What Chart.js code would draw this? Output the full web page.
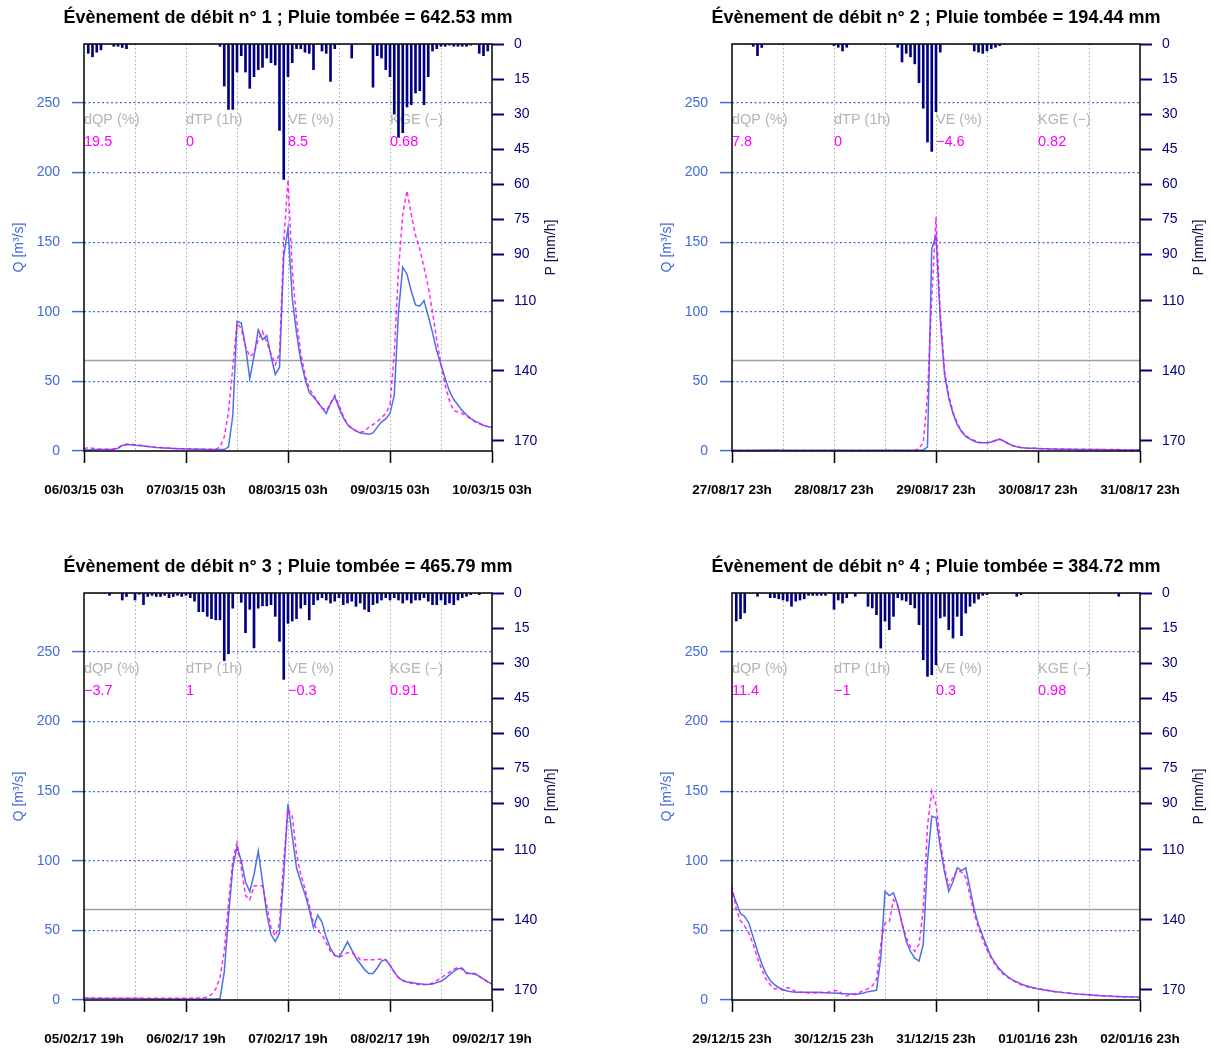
<!DOCTYPE html>
<html lang="fr">
<head>
<meta charset="utf-8">
<title>Évènements de débit</title>
<script src="https://cdn.jsdelivr.net/npm/chart.js@4.4.1/dist/chart.umd.min.js"></script>
<style>
  html, body { margin: 0; padding: 0; background: #fff; }
  #sheet { position: relative; width: 1214px; height: 1048px; }
  #sheet canvas { position: absolute; }
</style>
</head>
<body>
<div id="sheet">
  <canvas id="ev1" width="566" height="499" style="left:0;top:0"></canvas>
  <canvas id="ev2" width="566" height="499" style="left:648px;top:0"></canvas>
  <canvas id="ev3" width="566" height="499" style="left:0;top:549px"></canvas>
  <canvas id="ev4" width="566" height="499" style="left:648px;top:549px"></canvas>
</div>
<script>
// all series are hourly, index = hours since the start of the 4-day window

// --- event 1 ---
const dates1 = ['06/03/15 03h', '07/03/15 03h', '08/03/15 03h', '09/03/15 03h', '10/03/15 03h'];
const rain1 = [
  0, 4, 5.5, 3.5, 2.5, 0, 0, 1, 1, 1.5,
  2, 0, 0, 0, 0, 0, 0, 0, 0, 0,
  0, 0, 0, 0, 0, 0, 0, 0, 0, 0,
  0, 0, 1, 18, 28, 28, 12, 5, 12, 19,
  14, 11, 10, 6, 8, 9, 37, 58, 14, 8,
  2, 2, 3.5, 4, 11, 0, 3, 4, 16, 2,
  0, 0, 0, 6, 0, 0, 0, 0, 18.5, 5,
  6, 11, 14, 30, 40, 38, 27, 26, 21, 20,
  26, 14, 3, 2, 1, 1, 0.5, 1, 1, 1,
  1, 0.5, 0, 4, 5, 3];
const qObs1 = [
  0.8, 0.8, 0.9, 1, 1, 1, 1, 1.2, 2, 4,
  4.5, 4.5, 4.2, 4, 3.6, 3.2, 2.9, 2.6, 2.4, 2.2,
  2, 1.8, 1.7, 1.6, 1.5, 1.4, 1.3, 1.2, 1.2, 1.1,
  1.1, 1, 1, 1, 3, 25, 93, 92, 75, 52,
  68, 87, 80, 83, 68, 55, 60, 140, 160, 110,
  85, 65, 52, 42, 39, 35, 31, 27, 34, 39,
  31, 24, 19, 16.5, 14.5, 13, 12.5, 12, 13, 17,
  21, 23, 27, 40, 100, 132, 127, 115, 105, 104,
  108, 97, 85, 72, 62, 52, 43, 37, 33, 29,
  26, 23.5, 21.5, 20, 18.5, 17.5, 17];
const qSim1 = [
  1.5, 2.5, 2, 1.5, 1.2, 1.2, 1.2, 1.5, 2.5, 4,
  5, 5, 4.5, 4.2, 3.8, 3.3, 3, 2.7, 2.5, 2.3,
  2.1, 1.9, 1.8, 1.7, 1.6, 1.5, 1.4, 1.4, 1.3, 1.3,
  1.2, 1.2, 3, 10, 28, 60, 92, 88, 75, 68,
  70, 80, 86, 78, 70, 62, 70, 150, 195, 130,
  95, 70, 55, 45, 40, 35, 31, 29, 34, 40,
  33, 25, 19, 16, 14.5, 13.5, 14, 17, 19, 21,
  24, 27, 33, 70, 130, 170, 187, 170, 155, 145,
  132, 118, 100, 80, 62, 47, 36, 29, 28, 27,
  25, 23, 21, 19.5, 18.5, 17.5, 17];
const stats1 = [19.5, 0, 8.5, 0.68];

// --- event 2 ---
const dates2 = ['27/08/17 23h', '28/08/17 23h', '29/08/17 23h', '30/08/17 23h', '31/08/17 23h'];
const rain2 = [
  0, 0, 0, 0, 0, 1, 5, 1.5, 0, 0,
  0, 0, 0, 0, 0, 0, 0, 0, 0, 0,
  0, 0, 0, 0, 0.7, 1.4, 3, 1.4, 0, 0,
  0, 0, 0, 0, 0, 0, 0, 0, 0, 1.4,
  7.7, 4, 5.5, 8.5, 16.6, 27.5, 42, 46, 29, 3.5,
  0, 0, 0, 0, 0, 0, 0, 3, 3.5, 4,
  3, 2, 1.4, 0.7, 0, 0, 0, 0, 0, 0,
  0, 0, 0, 0, 0, 0, 0, 0, 0, 0,
  0, 0, 0, 0, 0, 0, 0, 0, 0, 0,
  0, 0, 0, 0, 0, 0];
const qObs2 = [
  0.6, 0.6, 0.6, 0.6, 0.6, 0.6, 0.6, 0.7, 0.7, 0.7,
  0.7, 0.7, 0.6, 0.6, 0.6, 0.6, 0.6, 0.6, 0.5, 0.5,
  0.5, 0.5, 0.5, 0.5, 0.5, 0.5, 0.5, 0.5, 0.5, 0.5,
  0.5, 0.5, 0.5, 0.5, 0.5, 0.5, 0.5, 0.5, 0.5, 0.5,
  0.5, 0.5, 0.5, 0.5, 0.5, 0.6, 3, 145, 155, 95,
  55, 38, 27, 19, 14, 10.5, 8.5, 7, 6, 6,
  6, 6.5, 7.5, 8.5, 7, 5.5, 4, 3, 2.5, 2.2,
  2, 1.9, 1.8, 1.7, 1.6, 1.5, 1.4, 1.3, 1.3, 1.2,
  1.2, 1.1, 1.1, 1, 1, 1, 1, 1, 0.9, 0.9,
  0.9, 0.9, 0.8, 0.8, 0.8, 0.8, 0.8];
const qSim2 = [
  0.3, 0.3, 0.3, 0.3, 0.3, 0.3, 0.3, 0.3, 0.3, 0.3,
  0.3, 0.3, 0.3, 0.3, 0.3, 0.3, 0.3, 0.3, 0.3, 0.3,
  0.3, 0.3, 0.3, 0.3, 0.3, 0.3, 0.3, 0.3, 0.3, 0.3,
  0.3, 0.3, 0.3, 0.3, 0.3, 0.3, 0.3, 0.3, 0.3, 0.3,
  0.3, 0.3, 0.3, 0.5, 2, 6, 40, 110, 168, 100,
  58, 40, 28, 20, 14.5, 11, 9, 7.5, 6.5, 6,
  6, 6.5, 7.5, 8.5, 7, 5, 4, 3, 2.5, 2.2,
  2, 1.9, 1.8, 1.7, 1.6, 1.5, 1.5, 1.4, 1.4, 1.3,
  1.3, 1.2, 1.2, 1.2, 1.1, 1.1, 1.1, 1, 1, 1,
  1, 1, 0.9, 0.9, 0.9, 0.9, 0.9];
const stats2 = [7.8, 0, -4.6, 0.82];

// --- event 3 ---
const dates3 = ['05/02/17 19h', '06/02/17 19h', '07/02/17 19h', '08/02/17 19h', '09/02/17 19h'];
const rain3 = [
  0, 0, 0, 0, 0, 0, 1, 0, 0, 3,
  1.5, 0, 3, 0.5, 5, 1.5, 1, 1.5, 1.5, 1,
  2, 1.5, 1, 1.5, 1, 2, 3.5, 8, 8, 10,
  11, 11.5, 11.5, 29, 26, 6.5, 0, 4, 17, 7,
  23.5, 6.5, 5.5, 5.5, 5, 10, 20.7, 37, 13, 12,
  11, 6.5, 5, 11.5, 5, 3, 2, 3, 4.3, 3.5,
  2, 5, 4.3, 3.5, 5.7, 4.3, 7, 8, 5, 4.3,
  3, 2, 3, 2, 3, 4.3, 3, 4.3, 3, 3,
  2, 3.5, 5, 5, 3, 5, 4.3, 5, 3, 2,
  1.4, 0.7, 0, 0.7, 0, 0];
const qObs3 = [
  1.2, 1.2, 1.1, 1.1, 1.1, 1, 1, 1, 1, 1,
  1, 1, 1, 1, 0.9, 0.9, 0.9, 0.9, 0.9, 0.9,
  0.8, 0.8, 0.8, 0.8, 0.8, 0.8, 0.8, 0.8, 0.8, 0.8,
  0.8, 0.8, 1, 20, 60, 95, 110, 100, 85, 78,
  90, 107, 85, 62, 47, 42, 48, 90, 141, 118,
  95, 85, 76, 65, 52, 61, 56, 45, 37, 32,
  31, 36, 42, 36, 30, 26, 22, 19, 19, 23,
  28, 29, 25, 20, 16, 14, 13, 12.5, 12, 11.6,
  11.3, 11.2, 11.5, 12.5, 13.5, 15.5, 18, 20.5, 22.5, 23,
  19, 19, 19, 17, 15, 13, 11.6];
const qSim3 = [
  1.5, 1.5, 1.4, 1.4, 1.4, 1.3, 1.3, 1.3, 1.3, 1.3,
  1.3, 1.2, 1.2, 1.2, 1.2, 1.2, 1.2, 1.2, 1.2, 1.2,
  1.2, 1.2, 1.2, 1.2, 1.3, 1.3, 1.4, 1.5, 1.7, 2,
  4, 8, 16, 35, 70, 100, 113, 95, 75, 72,
  82, 82, 82, 68, 52, 46, 55, 100, 137, 132,
  105, 90, 80, 68, 55, 50, 47, 41, 35, 32,
  31, 32, 34, 34, 32, 29, 29, 29, 29, 29,
  29.5, 29, 25, 20, 16, 14, 13, 12, 11.5, 11,
  11, 11.5, 12, 14, 16, 18, 20, 22, 23.5, 22,
  19.5, 19, 18.5, 17, 15, 13, 11.6];
const stats3 = [-3.7, 1, -0.3, 0.91];

// --- event 4 ---
const dates4 = ['29/12/15 23h', '30/12/15 23h', '31/12/15 23h', '01/01/16 23h', '02/01/16 23h'];
const rain4 = [
  0, 12, 11, 8.5, 0, 0, 1.4, 0, 0, 2,
  2, 2.5, 3, 3.5, 5.7, 3.5, 3, 2.5, 1, 1,
  1, 1, 1, 0, 7, 3, 4.3, 2, 0, 1.4,
  0, 0, 5.7, 6.4, 9.3, 23.6, 12, 15.7, 10, 2,
  3, 3.5, 5, 6.4, 13.6, 28.6, 35.7, 35, 30.7, 10.7,
  10, 15.7, 19.3, 10, 18.3, 8.6, 5.7, 4.3, 2.6, 1,
  0.7, 0, 0, 0, 0, 0, 0, 1.4, 0.7, 0,
  0, 0, 0, 0, 0, 0, 0, 0, 0, 0,
  0, 0, 0, 0, 0, 0, 0, 0, 0, 0,
  0, 1.4, 0, 0, 0, 0];
const qObs4 = [
  78, 70, 62, 60, 55, 45, 35, 26, 19, 14,
  11, 9, 7.5, 6.5, 6, 5.5, 5.5, 5.5, 5.5, 5.5,
  5.5, 5.3, 5.2, 5.1, 5, 4.8, 4.6, 4.5, 4.3, 4,
  4.5, 5, 6, 6.5, 7, 30, 78, 75, 77, 68,
  55, 42, 35, 30, 28, 40, 100, 132, 131, 110,
  92, 78, 85, 95, 93, 95, 80, 65, 54, 46,
  38, 31, 26, 22, 19, 16.5, 14.5, 13, 11.5, 10.5,
  9.5, 8.8, 8, 7.5, 7, 6.5, 6, 5.7, 5.3, 5,
  4.7, 4.4, 4.1, 3.9, 3.7, 3.5, 3.3, 3.1, 2.9, 2.8,
  2.6, 2.5, 2.4, 2.3, 2.2, 2.1, 2];
const qSim4 = [
  82, 65, 57, 53, 48, 40, 30, 22, 15, 11,
  8, 8.5, 7, 9, 8, 6, 5.5, 5.5, 5, 5,
  5, 5.5, 5, 6, 6.5, 7, 4, 3, 4, 4.5,
  5.5, 7, 8, 10, 15, 40, 55, 56, 72, 68,
  55, 45, 38, 35, 40, 65, 125, 150, 140, 115,
  95, 82, 88, 93, 92, 88, 75, 62, 52, 43,
  36, 30, 25, 21, 18, 16, 14, 12.5, 11, 10,
  9, 8.5, 8, 7.5, 7, 6.5, 6, 5.7, 5.3, 5,
  4.7, 4.4, 4.1, 3.9, 3.7, 3.5, 3.3, 3.1, 2.9, 2.7,
  2.5, 2.3, 2.2, 2.1, 2, 1.9, 1.8];
const stats4 = [11.4, -1, 0.3, 0.98];

const rainTotals = ['642.53', '194.44', '465.79', '384.72'];
const statNames = ['dQP (%)', 'dTP (1h)', 'VE (%)', 'KGE (\u2212)'];
const qTicks = [0, 50, 100, 150, 200, 250];
const pTicks = [0, 15, 30, 45, 60, 75, 90, 110, 140, 170];
const qThreshold = 65;
const qTop = 292.4;
const pTop = 174.3;
const hours = 96;

const FONT = "'Liberation Sans', Arial, Helvetica, sans-serif";
const BLUE = '#4169E1';
const NAVY = '#000080';
const PINK = '#FF00FF';

const fmt = v => String(v).replace('-', '\u2212');

// stats block behind the grid; title, frame and rain axis title on top
const panelDecor = {
  id: 'panelDecor',
  beforeDraw(chart, args, opts) {
    const { ctx } = chart;
    const x = chart.scales.x, y = chart.scales.y;
    ctx.save();
    ctx.font = '14.5px ' + FONT;
    ctx.textAlign = 'left';
    ctx.textBaseline = 'middle';
    statNames.forEach((name, k) => {
      const px = x.getPixelForValue(k * 24);
      ctx.fillStyle = '#B4B4B4';
      ctx.fillText(name, px, y.getPixelForValue(238));
      ctx.fillStyle = PINK;
      ctx.fillText(fmt(opts.stats[k]), px, y.getPixelForValue(222));
    });
    ctx.restore();
  },
  afterDraw(chart, args, opts) {
    const { ctx, chartArea: a } = chart;
    const midX = (a.left + a.right) / 2;
    ctx.save();
    ctx.strokeStyle = '#000';
    ctx.lineWidth = 1.5;
    ctx.strokeRect(a.left, a.top, a.right - a.left, a.bottom - a.top);

    ctx.font = 'bold 18px ' + FONT;
    ctx.fillStyle = '#000';
    ctx.textAlign = 'center';
    ctx.textBaseline = 'middle';
    ctx.fillText(opts.title, midX, a.top - 26);

    ctx.translate(a.right + 59, (a.top + a.bottom) / 2);
    ctx.rotate(-Math.PI / 2);
    ctx.font = '14px ' + FONT;
    ctx.fillStyle = '#10104a';
    ctx.fillText('P [mm/h]', 0, 0);
    ctx.restore();
  }
};

function drawEvent(id, n, dates, rain, qObs, qSim, stats) {
  const pts = arr => arr.map((v, i) => ({ x: i, y: v }));
  const tickFont = { family: FONT, size: 14 };
  new Chart(document.getElementById(id), {
    type: 'line',
    plugins: [panelDecor],
    data: {
      datasets: [
        { type: 'bar', data: pts(rain), yAxisID: 'y2', backgroundColor: NAVY,
          barThickness: 2, order: 0 },
        { data: pts(qSim), yAxisID: 'y', borderColor: 'rgba(255,0,255,0.85)', borderWidth: 1.5,
          borderDash: [4, 3], pointRadius: 0, order: 1 },
        { data: pts(qObs), yAxisID: 'y', borderColor: 'rgba(65,105,225,0.95)', borderWidth: 1.5,
          pointRadius: 0, order: 2 },
        { data: [{ x: 0, y: qThreshold }, { x: hours, y: qThreshold }], yAxisID: 'y',
          borderColor: '#A0A0A0', borderWidth: 1.5, pointRadius: 0, order: 3 }
      ]
    },
    options: {
      responsive: false,
      animation: false,
      devicePixelRatio: 1,
      layout: { padding: { top: 44 } },
      plugins: {
        legend: { display: false },
        tooltip: { enabled: false },
        panelDecor: {
          stats,
          title: `Évènement de débit n° ${n} ; Pluie tombée = ${rainTotals[n - 1]} mm`
        }
      },
      scales: {
        x: {
          type: 'linear', min: 0, max: hours, offset: false,
          afterFit: s => { s.height = 48; },
          ticks: {
            stepSize: 12, autoSkip: false, maxRotation: 0, padding: 19, color: '#000',
            font: { family: FONT, size: 13.5, weight: 'bold' },
            callback: v => (v % 24 === 0 ? dates[v / 24] : '')
          },
          grid: {
            offset: false,
            color: c => (c.tick && c.tick.value % hours !== 0 ? '#A8A8A8' : 'rgba(0,0,0,0)'),
            lineWidth: 1, tickLength: 12, tickWidth: 1.5,
            tickColor: c => (c.tick && c.tick.value % 24 === 0 ? '#000' : 'rgba(0,0,0,0)')
          },
          border: { display: false, dash: [1.5, 2.5] }
        },
        y: {
          position: 'left', min: 0, max: qTop,
          afterBuildTicks: s => { s.ticks = qTicks.map(v => ({ value: v })); },
          afterFit: s => { s.width = 84; },
          ticks: { color: BLUE, padding: 12, font: tickFont },
          grid: {
            color: c => (c.tick && c.tick.value !== 0 ? BLUE : 'rgba(0,0,0,0)'),
            lineWidth: 1.2, tickLength: 12, tickWidth: 1.5, tickColor: BLUE
          },
          border: { display: false, dash: [2, 2.5] },
          title: { display: true, text: 'Q [m³/s]', color: BLUE, font: tickFont, padding: { top: 11, bottom: 0 } }
        },
        y2: {
          position: 'right', reverse: true, min: 0, max: pTop,
          afterBuildTicks: s => { s.ticks = pTicks.map(v => ({ value: v })); },
          afterFit: s => { s.width = 74; },
          ticks: { color: NAVY, padding: 10, font: tickFont },
          grid: { drawOnChartArea: false, tickLength: 12, tickWidth: 2, tickColor: NAVY },
          border: { display: false }
        }
      }
    }
  });
}

drawEvent('ev1', 1, dates1, rain1, qObs1, qSim1, stats1);
drawEvent('ev2', 2, dates2, rain2, qObs2, qSim2, stats2);
drawEvent('ev3', 3, dates3, rain3, qObs3, qSim3, stats3);
drawEvent('ev4', 4, dates4, rain4, qObs4, qSim4, stats4);
</script>
</body>
</html>
